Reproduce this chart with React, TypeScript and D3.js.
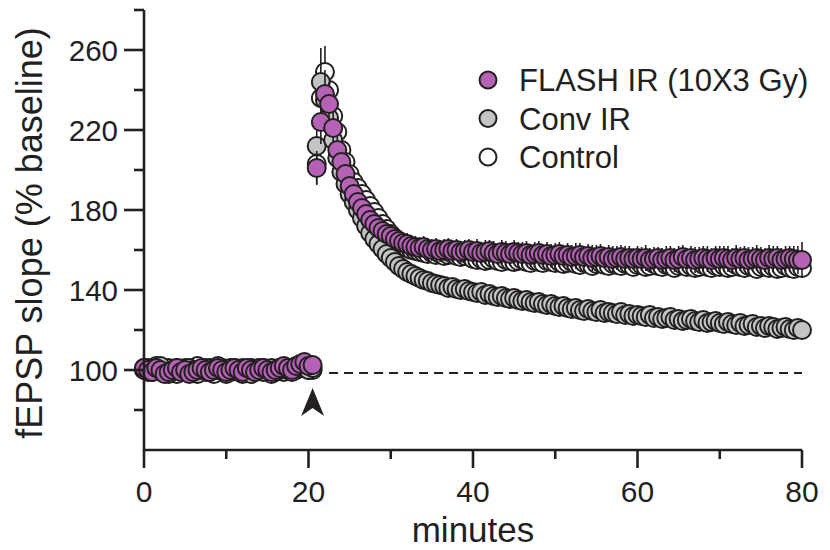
import React from "react";
import * as d3 from "d3";

// ---- data ----
const baselineMinutes = d3.range(0, 20.51, 0.5); // 42 samples, 0 .. 20.5 min
const postMinutes = d3.range(21, 80.01, 0.5); // 119 samples, 21 .. 80 min

const flashBaseline = [101, 100, 99, 101, 100, 98, 99, 100, 101, 99, 100, 98, 99, 100, 101, 100, 99, 100, 101, 100, 99, 100, 101, 100, 99, 101, 100, 99, 100, 101, 100, 99, 100, 101, 102, 101, 100, 102, 103, 104, 102, 102.5];
const convBaseline = [100, 101, 99, 100, 102, 99, 98, 100, 101, 100, 99, 101, 100, 98, 100, 101, 99, 100, 102, 100, 98, 101, 100, 99, 101, 100, 98, 100, 101, 99, 100, 101, 99, 100, 101, 100, 99, 101, 102, 101, 100, 101];
const controlBaseline = [101, 99, 100, 102, 100, 99, 101, 100, 98, 100, 101, 99, 100, 102, 100, 99, 101, 98, 100, 101, 100, 99, 101, 100, 98, 100, 101, 99, 100, 101, 100, 98, 100, 101, 99, 100, 101, 100, 102, 101, 100, 100];

const flashPost = [
  201, 224, 238, 233, 221, 210, 204, 198, 192, 188, 184, 181, 178, 175, 173, 171, 169.5, 168, 167, 165.5, 164.5, 163.5, 163, 162, 161.5, 161, 161.5, 160.5, 160, 160.5, 159.5, 160, 160.5, 159.5, 160, 159, 159.5, 160,
  159, 159.5, 158.5, 159, 159.5, 158.5, 158, 159, 158.5, 158, 159, 158.5, 158, 158.5, 157.5, 158, 158.5, 157.5, 158, 157, 157.5,
  158, 157, 157.5, 156.5, 157, 157.5, 156.5, 157, 156, 156.5, 157, 156, 156.5, 155.5, 156, 156.5, 155.5, 156, 155.5, 156,
  155.5, 156, 155, 155.5, 156, 155, 155.5, 156, 155, 155.5, 156.5, 155.5, 156, 155, 155.5, 156, 155.5, 155, 156, 155.5,
  156, 155.5, 155, 156, 155.5, 156, 155, 155.5, 156, 155.5, 155, 156, 155.5, 156, 155, 155.5, 156, 155.5, 155, 155,
];
const convPost = [
  212, 244, 235, 226, 215, 206, 199, 193, 188, 184, 180, 176, 172, 168.5, 165.5, 163, 160.5, 158, 156, 154, 152, 150.5, 149, 148, 147, 146, 145, 144.5, 143.5, 143, 142.5, 142, 141, 141.5, 140.5, 140, 140.5, 139.5,
  139, 138.5, 139, 137.5, 138, 137, 136.5, 137, 136, 135.5, 136, 135, 134.5, 135, 134, 133.5, 134, 133, 132.5, 133, 132,
  131.5, 132, 131, 130.5, 131, 130, 129.5, 130.5, 129.5, 129, 130, 128.5, 129, 128.5, 128, 129, 127.5, 128, 127, 127.5,
  127, 126.5, 127.5, 126, 126.5, 125.5, 126, 126.5, 125, 125.5, 124.5, 125, 125.5, 124.5, 124, 125, 123.5, 124, 124.5, 123.5,
  123, 124, 123, 122.5, 123.5, 122, 122.5, 123, 121.5, 122, 121, 122, 121.5, 120.5, 121, 121.5, 120.5, 120, 121, 120,
];
const controlPost = [
  203, 236, 249, 240, 227, 219, 210, 204, 198, 194, 191, 188, 185, 182, 179, 176, 173, 170.5, 168, 166, 164, 162.5, 161, 160, 159.5, 159, 158.5, 158, 158.5, 157.5, 158, 157, 157.5, 158, 157, 156.5, 157, 157.5,
  155.5, 155, 155.5, 154.5, 155, 155.5, 154.5, 154, 155, 154.5, 154, 154.5, 155, 154, 153.5, 154.5, 154, 153.5, 154.5, 154, 153.5,
  154, 153, 153.5, 154, 153, 152.5, 153.5, 153, 152, 153, 153.5, 152.5, 152, 153, 152.5, 152, 153, 152.5, 151.5, 152.5,
  152.5, 151.5, 152, 153, 152, 151.5, 152.5, 152, 151, 152, 152.5, 151.5, 152, 151, 151.5, 152.5, 151.5, 151, 152, 151.5,
  152, 151, 151.5, 152.5, 151.5, 151, 152, 151.5, 150.5, 151.5, 152, 151, 151.5, 150.5, 151, 152, 151, 150.5, 151.5, 151,
];

// SEM of the post-stimulus samples
const flashSem = [
  8.5, 11, 12, 11, 9, 8, 7.5, 7, 6.5, 6.5, 6, 6, 6, 6, 5.5, 5.5, 5.5, 5.5, 5.5, 5.5, 5.5, 5.5, 5.5, 5.5, 5.5, 5.5, 5.5, 5.5, 5.5, 5.5, 5.5, 5.5, 5.5, 5.5, 5.5, 5.5, 5.5, 5.5,
  5.5, 6, 5.5, 6, 5.5, 6, 5.5, 6, 6, 5.5, 6, 5.5, 6, 6, 5.5, 6, 6, 5.5, 6, 6, 6,
  6, 5.5, 6, 6, 6.5, 6, 5.5, 6, 6.5, 6, 6, 5.5, 6, 6.5, 6, 6, 6.5, 6, 5.5, 6,
  6, 6.5, 6, 6, 5.5, 6, 6.5, 6, 6, 6.5, 6, 5.5, 6, 6.5, 6, 6, 6.5, 6, 6, 6.5,
  6, 6.5, 6, 6.5, 6, 6, 6.5, 6, 6.5, 6, 6, 6.5, 6.5, 6, 6, 6.5, 6, 6.5, 7, 9,
];
const convSem = [
  14, 17, 12, 10, 8, 7, 6.5, 6, 5.5, 5.5, 5, 5, 5, 5, 5, 5, 5, 5, 4.5, 4.5, 4.5, 4.5, 4.5, 4.5, 4, 4, 4, 4, 4, 4, 4, 4, 4, 4, 4, 4, 4, 4,
  3.5, 3.5, 4, 3.5, 3.5, 3.5, 4, 3.5, 3.5, 3.5, 3.5, 4, 3.5, 3.5, 3.5, 3.5, 4, 3.5, 3.5, 3.5, 3.5,
  3.5, 3.5, 3.5, 4, 3.5, 3.5, 3.5, 3.5, 4, 3.5, 3.5, 3.5, 3.5, 3.5, 4, 3.5, 3.5, 3.5, 3.5, 3.5,
  3.5, 3.5, 3.5, 4, 3.5, 3.5, 3.5, 3.5, 4, 3.5, 3.5, 3.5, 3.5, 3.5, 4, 3.5, 3.5, 3.5, 3.5, 3.5,
  3.5, 3.5, 3.5, 4, 3.5, 3.5, 3.5, 3.5, 4, 3.5, 3.5, 3.5, 3.5, 3.5, 4, 3.5, 3.5, 3.5, 3.5, 3.5,
];
const controlSem = [
  10, 12, 13, 12, 10, 9, 8, 7.5, 7, 6.5, 6, 6, 6, 6, 5.5, 5.5, 5.5, 5, 5, 5, 5, 5, 5, 4.5, 4.5, 4.5, 4.5, 4.5, 4.5, 4.5, 4.5, 4.5, 4.5, 4.5, 4.5, 4.5, 4.5, 4.5,
  4, 4, 4.5, 4, 4, 4, 4.5, 4, 4, 4, 4, 4.5, 4, 4, 4, 4, 4.5, 4, 4, 4, 4,
  4, 4, 4, 4.5, 4, 4, 4, 4, 4.5, 4, 4, 4, 4, 4, 4.5, 4, 4, 4, 4, 4,
  4, 4, 4, 4.5, 4, 4, 4, 4, 4.5, 4, 4, 4, 4, 4, 4.5, 4, 4, 4, 4, 4,
  4, 4, 4, 4.5, 4, 4, 4, 4, 4.5, 4, 4, 4, 4, 4, 4.5, 4, 4, 4, 4, 4,
];

const seriesNames = ["FLASH IR (10X3 Gy)", "Conv IR", "Control"];
const seriesColors = ["#b562b6", "#c3c4c6", "#ffffff"];

const xMajorTicks = [0, 20, 40, 60, 80];
const xMinorTicks = [10, 30, 50, 70];
const yMajorTicks = [100, 140, 180, 220, 260];
const yMinorTicks = [80, 120, 160, 200, 240, 280];

const stimulusMinute = 20.5;
const dashedLevel = 98.5;
const dashedStart = 22.5;

const INK = "#231f20";
const FONT = "'Liberation Sans', Arial, Helvetica, sans-serif";

type Pt = { t: number; v: number; sem: number | null };

function buildSeries(base: number[], post: number[], sem: number[]): Pt[] {
  const a: Pt[] = base.map((v, i) => ({ t: baselineMinutes[i], v, sem: null }));
  const b: Pt[] = post.map((v, i) => ({ t: postMinutes[i], v, sem: sem[i] }));
  return a.concat(b);
}

export default function App() {
  const W = 830;
  const H = 550;
  const x = d3.scaleLinear().domain([0, 80]).range([144, 802]);
  const y = d3.scaleLinear().domain([60, 280]).range([450, 10]);

  const flash = buildSeries(flashBaseline, flashPost, flashSem);
  const conv = buildSeries(convBaseline, convPost, convSem);
  const control = buildSeries(controlBaseline, controlPost, controlSem);

  // draw order: control (bottom), conv, flash (top)
  const layers = [
    { data: control, color: seriesColors[2] },
    { data: conv, color: seriesColors[1] },
    { data: flash, color: seriesColors[0] },
  ];

  const R = 9;
  const ax = x(stimulusMinute);
  const tipY = y(91);

  return (
    <svg width={W} height={H} style={{ position: "absolute", left: 0, top: 0, background: "#fff" }} fontFamily={FONT}>
      <rect width={W} height={H} fill="#fff" />

      {/* dashed baseline */}
      <line x1={x(dashedStart)} x2={x(80)} y1={y(dashedLevel)} y2={y(dashedLevel)} stroke={INK} strokeWidth={2.2} strokeDasharray="9 6" />

      {/* data */}
      {layers.map((L, li) => (
        <g key={li}>
          {L.data.map((d, i) =>
            d.sem != null ? (
              <line key={"e" + i} x1={x(d.t)} x2={x(d.t)} y1={y(d.v + d.sem)} y2={y(d.v - d.sem)} stroke={INK} strokeWidth={1.6} />
            ) : null
          )}
          {L.data.map((d, i) => (
            <circle key={"c" + i} cx={x(d.t)} cy={y(d.v)} r={R} fill={L.color} stroke={INK} strokeWidth={2} />
          ))}
        </g>
      ))}

      {/* arrow */}
      <path d={`M${ax},${tipY} L${ax + 11.5},${tipY + 28} L${ax},${tipY + 20} L${ax - 11.5},${tipY + 28} Z`} fill={INK} />

      {/* axes */}
      <line x1={x(0)} x2={x(80)} y1={y(60)} y2={y(60)} stroke={INK} strokeWidth={2.6} />
      <line x1={x(0)} x2={x(0)} y1={y(60) + 1.3} y2={y(280)} stroke={INK} strokeWidth={2.6} />
      {xMajorTicks.map((t) => (
        <g key={"xm" + t}>
          <line x1={x(t)} x2={x(t)} y1={y(60)} y2={y(60) + 18} stroke={INK} strokeWidth={2.6} />
          <text x={x(t)} y={502} textAnchor="middle" fontSize={30} fill={INK}>{t}</text>
        </g>
      ))}
      {xMinorTicks.map((t) => (
        <line key={"xn" + t} x1={x(t)} x2={x(t)} y1={y(60)} y2={y(60) + 9} stroke={INK} strokeWidth={2.6} />
      ))}
      {yMajorTicks.map((t) => (
        <g key={"ym" + t}>
          <line x1={x(0) - 20} x2={x(0)} y1={y(t)} y2={y(t)} stroke={INK} strokeWidth={2.6} />
          <text x={118} y={y(t) + 10.5} textAnchor="end" fontSize={29.5} fill={INK}>{t}</text>
        </g>
      ))}
      {yMinorTicks.map((t) => (
        <line key={"yn" + t} x1={x(0) - 10} x2={x(0)} y1={y(t)} y2={y(t)} stroke={INK} strokeWidth={2.6} />
      ))}

      <text x={473} y={542} textAnchor="middle" fontSize={35} fill={INK}>minutes</text>
      <text transform="translate(42,233) rotate(-90)" textAnchor="middle" fontSize={36} fill={INK}>fEPSP slope (% baseline)</text>

      {/* legend */}
      {seriesNames.map((n, i) => (
        <g key={n}>
          <circle cx={488} cy={80 + i * 38.5} r={8.5} fill={seriesColors[i]} stroke={INK} strokeWidth={2} />
          <text x={519} y={80 + i * 38.5 + 11} fontSize={31} fill={INK}>{n}</text>
        </g>
      ))}
    </svg>
  );
}
